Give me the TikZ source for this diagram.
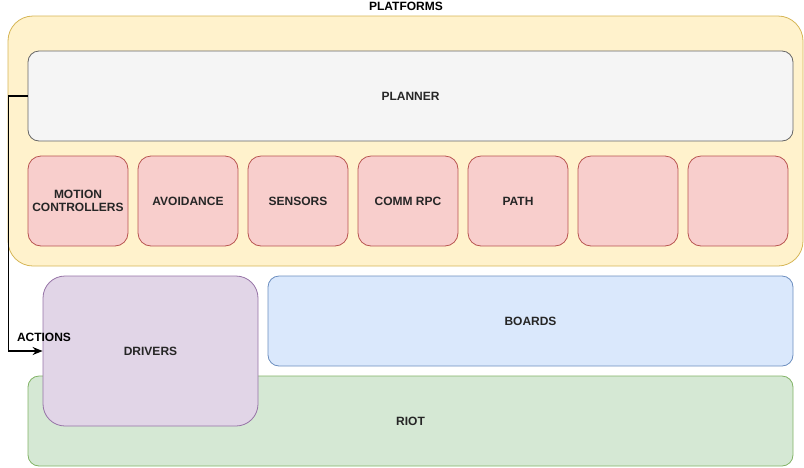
\documentclass[tikz,border=0pt]{standalone}
\usepackage{fontspec}
\setmainfont{Liberation Sans}
\usetikzlibrary{arrows.meta}
\definecolor{platF}{HTML}{FFF2CC}\definecolor{platD}{HTML}{D6B656}
\definecolor{planF}{HTML}{F5F5F5}\definecolor{planD}{HTML}{666666}
\definecolor{redF}{HTML}{F8CECC}\definecolor{redD}{HTML}{B85450}
\definecolor{bluF}{HTML}{DAE8FC}\definecolor{bluD}{HTML}{6C8EBF}
\definecolor{grnF}{HTML}{D5E8D4}\definecolor{grnD}{HTML}{82B366}
\definecolor{purF}{HTML}{E1D5E7}\definecolor{purD}{HTML}{9673A6}
\begin{document}
\begin{tikzpicture}[x=1pt,y=-1pt,
  box/.style={line width=0.8pt, inner sep=0pt, align=center,
    font=\fontsize{12}{13.5}\selectfont\bfseries, text=black!85},
  lbl/.style={font=\fontsize{12}{13.5}\selectfont\bfseries, inner sep=0pt},
  modbox/.style={box, fill=redF, draw=redD, minimum width=100pt, minimum height=90pt, rounded corners=13pt},
  arr/.style={line width=1.5pt, -{Stealth[length=10pt,width=8pt]}}]
\useasboundingbox (0,0) rectangle (804,467);
\node[box, fill=platF, draw=platD, minimum width=795pt, minimum height=250pt, rounded corners=25pt] (plat) at (405.5,141) {};
\node[lbl] (platlbl) at (406,6.5) {PLATFORMS};
\node[box, fill=planF, draw=planD, minimum width=765pt, minimum height=90pt, rounded corners=11pt] (planner) at (410.5,96) {PLANNER};
\node[modbox] (m1) at (78,201) {MOTION\\CONTROLLERS};
\node[modbox] (m2) at (188,201) {AVOIDANCE};
\node[modbox] (m3) at (298,201) {SENSORS};
\node[modbox] (m4) at (408,201) {COMM RPC};
\node[modbox] (m5) at (518,201) {PATH};
\node[modbox] (m6) at (628,201) {};
\node[modbox] (m7) at (738,201) {};
\node[box, fill=bluF, draw=bluD, minimum width=525pt, minimum height=90pt, rounded corners=11pt] (boards) at (530.5,321) {BOARDS};
\node[box, fill=grnF, draw=grnD, minimum width=765pt, minimum height=90pt, rounded corners=11pt] (riot) at (410.5,421) {RIOT};
\node[box, fill=purF, draw=purD, minimum width=215pt, minimum height=150pt, rounded corners=22pt] (drivers) at (150.5,351) {DRIVERS};
\coordinate (bend) at (8.5,96);
\draw[arr] (planner.west) -- (bend) |- (drivers.west);
\node[lbl] (actions) at (44,337) {ACTIONS};
\end{tikzpicture}
\end{document}
